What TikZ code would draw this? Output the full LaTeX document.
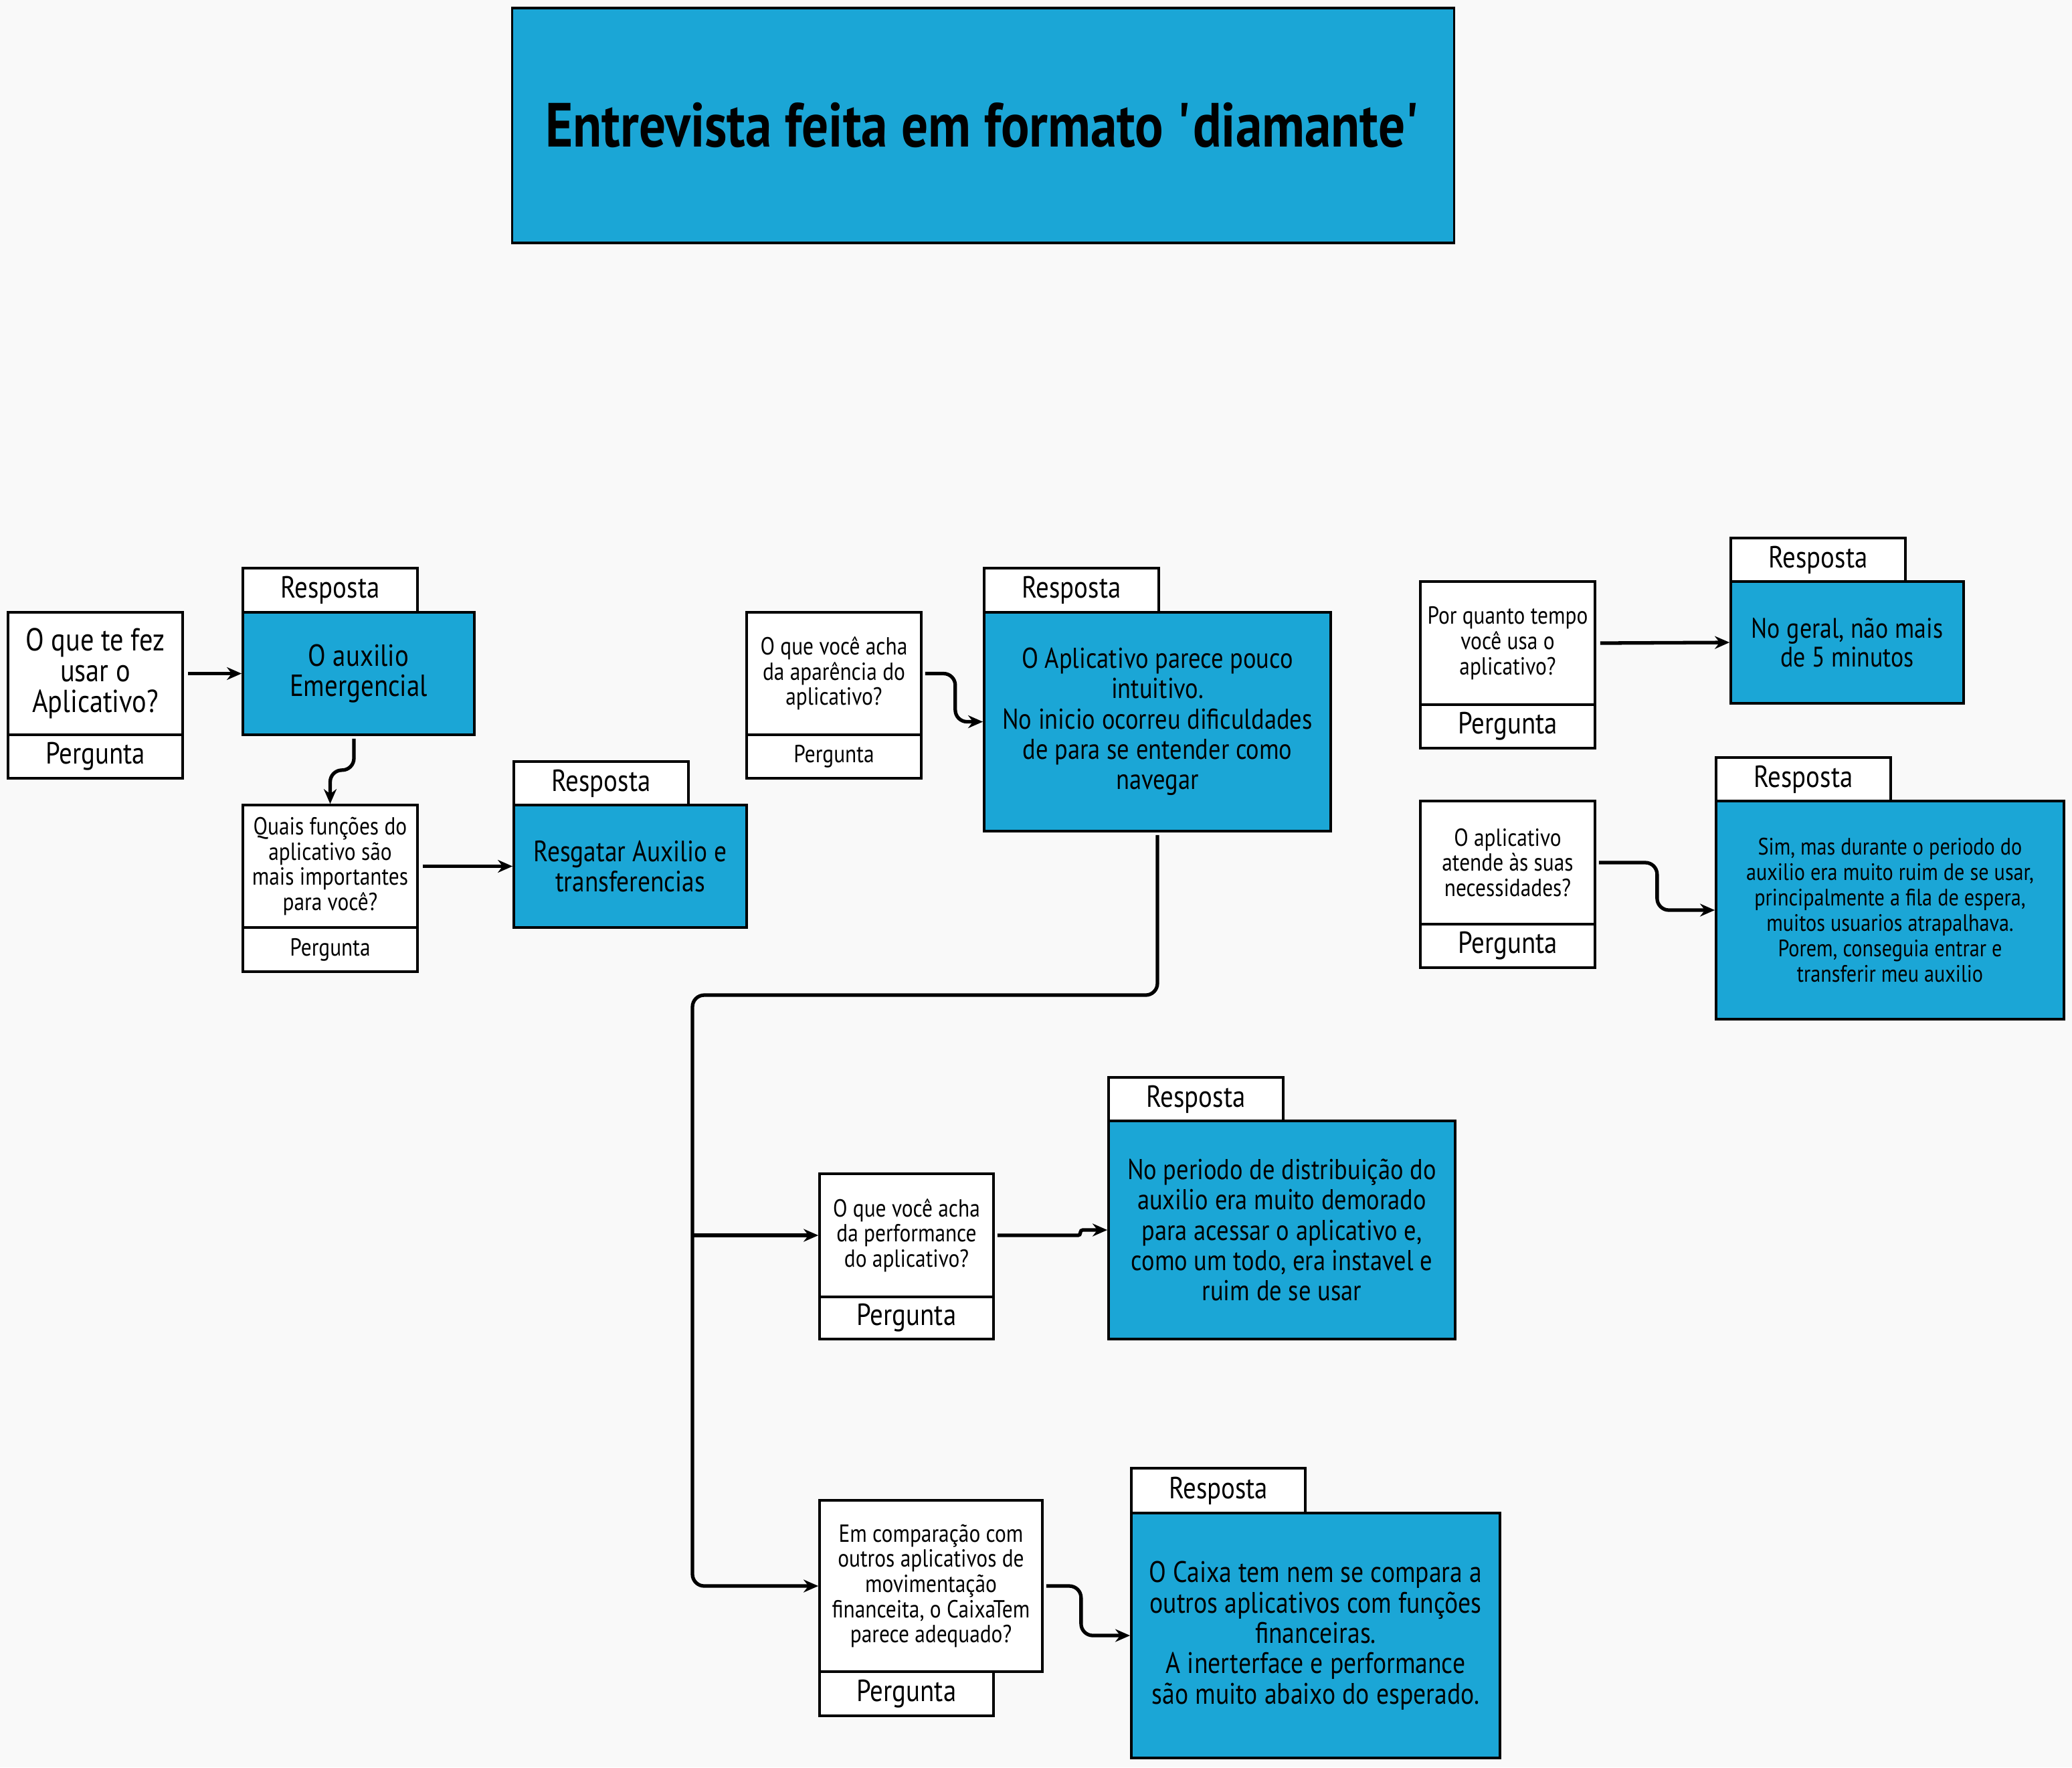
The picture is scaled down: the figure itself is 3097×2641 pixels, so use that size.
\documentclass[tikz,border=0pt]{standalone}
\usepackage{fontspec}
\setmainfont{PT Sans}[FakeStretch=0.85]
\usetikzlibrary{arrows.meta}
\definecolor{bg}{RGB}{249,249,249}
\definecolor{azul}{RGB}{27,166,214}
\newcommand\fs[2]{\fontsize{#1}{#2}\selectfont}
\newcommand\bx[7]{%
 \pgfmathsetmacro\mybw{(#4-#2)/100}%
 \pgfmathsetmacro\mybh{(#5-#3)/100}%
 \node[#6, minimum width=\mybw cm, minimum height=\mybh cm] (#1) at ({(#2+#4)/2},{(#3+#5)/2}) {#7};}
\tikzset{
 base/.style={draw=black, line width=1pt, inner sep=0pt, align=center, text=black},
 wbox/.style={base, fill=white},
 bbox/.style={base, fill=azul},
 big/.style={font=\fs{13}{13}},
 sml/.style={font=\fs{10.5}{10.7}},
 arr/.style={draw=black, line width=1.5pt, rounded corners=5pt, -{Stealth[length=0.22cm,width=0.19cm]}},
}
\begin{document}
\begin{tikzpicture}[x=0.01cm,y=-0.01cm]
\fill[bg] (0,0) rectangle (3097,2641);
\useasboundingbox (0,0) rectangle (3097,2641);
% title
\bx{title}{766}{12}{2173}{363}{bbox,font=\fs{26.5}{30}\bfseries}{Entrevista feita em formato \textquotesingle diamante\textquotesingle}
% block 1
\bx{q1}{12}{915}{273}{1098}{wbox,font=\fs{13.5}{13}}{O que te fez\\usar o\\Aplicativo?}
\bx{q1p}{12}{1098}{273}{1163}{wbox,big}{Pergunta}
\bx{r1t}{363}{849}{624}{915}{wbox,big}{Resposta}
\bx{r1}{363}{915}{709}{1098}{bbox,big}{O auxilio\\Emergencial}
\bx{q2}{363}{1203}{624}{1386}{wbox,sml}{Quais funções do\\aplicativo são\\mais importantes\\para você?}
\bx{q2p}{363}{1386}{624}{1452}{wbox,sml}{Pergunta}
\bx{r2t}{768}{1138}{1029}{1203}{wbox,big}{Resposta}
\bx{r2}{768}{1203}{1116}{1386}{bbox,font=\fs{12.5}{12.8}}{Resgatar Auxilio e\\transferencias}
% block 3
\bx{q3}{1116}{915}{1377}{1098}{wbox,sml}{O que você acha\\da aparência do\\aplicativo?}
\bx{q3p}{1116}{1098}{1377}{1163}{wbox,sml}{Pergunta}
\bx{r3t}{1471}{849}{1732}{915}{wbox,big}{Resposta}
\bx{r3}{1471}{915}{1989}{1242}{bbox,font=\fs{12.2}{12.9}}{O Aplicativo parece pouco\\intuitivo.\\No inicio ocorreu dificuldades\\de para se entender como\\navegar}
% block 4
\bx{q4}{1225}{1754}{1485}{1938}{wbox,sml}{O que você acha\\da performance\\do aplicativo?}
\bx{q4p}{1225}{1938}{1485}{2001}{wbox,big}{Pergunta}
\bx{r4t}{1657}{1610}{1918}{1675}{wbox,big}{Resposta}
\bx{r4}{1657}{1675}{2175}{2001}{bbox,font=\fs{12.2}{12.9}}{No periodo de distribuição do\\auxilio era muito demorado\\para acessar o aplicativo e,\\como um todo, era instavel e\\ruim de se usar}
% block 5
\bx{q5}{1225}{2242}{1558}{2498}{wbox,font=\fs{10.5}{10.7}}{Em comparação com\\outros aplicativos de\\movimentação\\financeita, o CaixaTem\\parece adequado?}
\bx{q5p}{1225}{2498}{1485}{2564}{wbox,big}{Pergunta}
\bx{r5t}{1691}{2194}{1951}{2261}{wbox,big}{Resposta}
\bx{r5}{1691}{2261}{2242}{2627}{bbox,font=\fs{12.6}{12.9}}{O Caixa tem nem se compara a\\outros aplicativos com funções\\financeiras.\\A inerterface e performance\\são muito abaixo do esperado.}
% block 6
\bx{q6}{2123}{869}{2384}{1053}{wbox,sml}{Por quanto tempo\\você usa o\\aplicativo?}
\bx{q6p}{2123}{1053}{2384}{1118}{wbox,big}{Pergunta}
\bx{r6t}{2587}{804}{2848}{869}{wbox,big}{Resposta}
\bx{r6}{2587}{869}{2935}{1051}{bbox,font=\fs{12}{12.4}}{No geral, não mais\\de 5 minutos}
% block 7
\bx{q7}{2123}{1197}{2384}{1381}{wbox,sml}{O aplicativo\\atende às suas\\necessidades?}
\bx{q7p}{2123}{1381}{2384}{1446}{wbox,big}{Pergunta}
\bx{r7t}{2565}{1132}{2826}{1197}{wbox,big}{Resposta}
\bx{r7}{2565}{1197}{3085}{1523}{bbox,font=\fs{10.1}{10.8}}{Sim, mas durante o periodo do\\auxilio era muito ruim de se usar,\\principalmente a fila de espera,\\muitos usuarios atrapalhava.\\Porem, conseguia entrar e\\transferir meu auxilio}
% connectors
\draw[arr] ([xshift=0.06cm]q1.east) -- (r1.west);
\draw[arr] ([xshift=-0.07cm,yshift=-0.04cm]r1.south) -- ++(0,47) -| (q2.north);
\draw[arr] ([xshift=0.06cm]q2.east) -- (r2.west);
\draw[arr] ([xshift=0.04cm]q3.east) -- ++(45,0) |- (r3.west);
\coordinate (jt) at (1035,1487);
\draw[arr] ([yshift=-0.04cm]r3.south) |- (jt) |- (q5.west);
\draw[arr] (jt |- q4.west) -- (q4.west);
\draw[arr,rounded corners=1pt] ([xshift=0.04cm]q4.east) -- ++(124,0) |- (r4.west);
\draw[arr] ([xshift=0.04cm]q5.east) -- ++(52,0) |- (r5.west);
\draw[arr] ([xshift=0.06cm]q6.east) -- (r6.west);
\draw[arr] ([xshift=0.04cm]q7.east) -- ++(87,0) |- (r7.west);
\end{tikzpicture}
\end{document}
